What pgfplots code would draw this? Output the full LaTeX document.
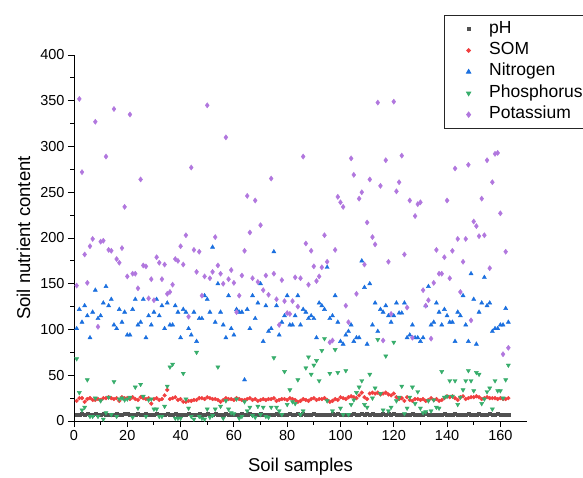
\documentclass[border=0pt]{standalone}
\usepackage{fontspec}
\setmainfont{Liberation Sans}
\usepackage{pgfplots}
\usepackage{pgfplotstable}
\pgfplotsset{compat=1.18}
\definecolor{cPH}{HTML}{515151}
\definecolor{cSOM}{HTML}{F14040}
\definecolor{cN}{HTML}{1A6FDF}
\definecolor{cP}{HTML}{37AD6B}
\definecolor{cK}{HTML}{B177DE}

% x pH SOM N P K
\pgfplotstableread{
x pH SOM N P K
1 7.2 22 101 68 148
2 6.8 25 122 31 352
3 7.5 25 108 12 272
4 6.9 21 126 15 182
5 7.8 24 115 45 151
6 6.5 25 91 5 191
7 7.1 23 119 5 199
8 7.6 23 143 25 327
9 6.7 24 112 5 103
10 7.3 23 115 22 196
11 8.0 25 129 2 197
12 6.9 25 147 9 289
13 7.4 26 126 26 187
14 7.0 25 133 7 186
15 6.6 24 105 43 341
16 7.7 25 101 5 177
17 7.2 22 122 24 173
18 6.8 26 108 25 189
19 7.5 25 119 23 234
20 7.9 25 94 24 158
21 7.1 24 94 26 335
22 6.4 26 122 4 161
23 7.3 24 133 37 161
24 7.6 23 105 14 145
25 7.0 26 108 40 264
26 6.9 25 133 27 170
27 7.7 24 91 5 169
28 7.2 25 115 23 134
29 6.6 19 105 24 155
30 7.4 24 119 13 132
31 7.8 25 133 13 179
32 7.0 23 115 5 173
33 6.7 24 126 5 155
34 7.3 28 101 16 171
35 7.5 34 129 38 139
36 6.9 24 105 59 141
37 7.1 25 105 62 149
38 7.6 26 126 3 177
39 6.5 23 119 3 175
40 7.2 24 91 3 191
41 7.4 21 122 52 171
42 6.8 21 119 24 203
43 7.7 22 101 14 114
44 7.0 22 94 5 277
45 6.6 23 119 2 187
46 7.3 23 87 75 163
47 7.9 25 112 5 185
48 7.1 25 112 3 137
49 6.8 24 137 2 158
50 7.5 26 133 13 345
51 7.2 25 119 4 156
52 6.7 24 190 6 163
53 7.6 24 108 13 201
54 7.0 23 150 59 170
55 7.3 21 119 16 161
56 6.9 23 105 3 150
57 7.8 25 91 22 310
58 7.1 24 137 13 155
59 6.6 24 101 9 165
60 7.4 23 94 8 151
61 7.2 25 122 24 119
62 6.8 24 119 3 137
63 7.5 23 119 5 159
64 7.0 23 45 21 186
65 6.7 24 122 11 246
66 7.6 25 101 15 206
67 7.3 23 137 6 156
68 6.9 24 112 4 241
69 7.1 22 129 16 152
70 7.7 23 150 7 214
71 6.5 24 87 15 143
72 7.2 23 126 5 159
73 7.4 24 98 4 138
74 6.8 24 101 15 265
75 7.0 25 185 69 161
76 7.6 22 126 15 133
77 6.9 23 94 11 105
78 7.3 24 108 7 154
79 6.6 24 115 54 131
80 7.1 23 137 18 118
81 7.8 25 105 34 117
82 7.0 24 105 21 131
83 6.7 23 115 19 157
84 7.5 21 137 45 125
85 7.2 22 105 7 156
86 8.2 24 122 11 289
87 7.0 23 119 58 194
88 6.8 22 112 70 149
89 7.3 24 115 51 186
90 7.6 25 112 61 169
91 6.9 23 91 66 153
92 7.1 24 129 44 158
93 6.6 24 126 77 168
94 7.4 25 122 90 203
95 7.2 23 168 22 174
96 6.8 21 112 52 86
97 7.5 22 115 11 88
98 7.0 24 137 78 187
99 7.7 23 108 53 245
100 6.9 26 87 14 239
101 7.3 25 84 7 234
102 7.1 24 94 55 126
103 6.6 26 98 7 108
104 7.4 27 105 18 287
105 7.8 26 87 23 269
106 7.2 25 91 31 139
107 6.9 28 91 37 243
108 7.5 31 175 44 250
109 7.0 26 146 18 171
110 7.6 24 84 15 217
111 7.3 30 150 51 264
112 7.9 31 105 25 201
113 7.1 30 129 36 193
114 7.4 31 98 89 348
115 6.8 29 122 30 257
116 7.7 30 119 12 88
117 7.2 31 126 71 285
118 7.5 29 115 11 174
119 6.9 28 108 15 117
120 7.6 30 115 86 349
121 7.0 26 129 22 251
122 7.3 24 118 26 261
123 6.7 25 118 38 290
124 7.4 22 129 8 182
125 7.1 26 91 14 124
126 6.8 23 94 26 241
127 7.5 22 105 37 91
128 7.2 24 91 19 224
129 6.6 24 91 32 237
130 7.3 23 87 14 239
131 7.0 24 91 9 143
132 7.7 22 126 10 126
133 6.9 23 147 22 132
134 7.2 25 105 11 90
135 6.5 23 108 23 151
136 7.4 24 129 15 187
137 7.1 22 119 14 161
138 6.8 23 105 54 161
139 7.6 25 122 26 179
140 7.0 27 115 27 241
141 7.3 26 108 44 156
142 6.9 27 108 27 186
143 7.5 25 87 44 276
144 7.2 23 119 18 199
145 6.7 26 115 26 141
146 7.4 27 137 34 174
147 7.0 24 105 44 199
148 7.8 25 87 55 280
149 7.1 26 161 44 110
150 6.8 26 133 33 218
151 7.3 27 84 53 213
152 7.6 26 119 51 202
153 6.9 24 129 19 243
154 7.2 25 157 24 203
155 7.0 26 126 32 285
156 7.5 25 129 36 167
157 6.7 25 98 13 261
158 7.3 25 101 44 292
159 7.9 24 101 33 293
160 7.1 25 105 33 227
161 6.9 24 105 25 73
162 7.4 24 123 45 185
163 7.2 25 108 61 80
}\soil

\begin{document}
\begin{tikzpicture}
\begin{axis}[
  scale only axis, width=453pt, height=366pt,
  xmin=0, xmax=170, ymin=0, ymax=400,
  axis x line*=bottom, axis y line*=left,
  xtick={0,20,...,160}, ytick={0,50,...,400},
  minor x tick num=1, minor y tick num=1,
  tick align=outside, major tick length=6pt, minor tick length=3.5pt,
  tick style={black, line width=0.9pt},
  axis line style={black, line width=0.9pt},
  /pgf/number format/assume math mode=true,
  ticklabel style={font=\fontsize{14.5}{16}\selectfont},
  label style={font=\fontsize{18.5}{21}\selectfont},
  xlabel={Soil samples}, ylabel={Soil nutrient content},
  xlabel style={yshift=-10pt}, ylabel style={yshift=3pt},
  legend style={at={(0.817,1.109)}, anchor=north west,
    draw=black!85, line width=0.9pt,
    font=\fontsize{17.5}{19}\selectfont, row sep=0.4pt,
    inner xsep=22pt, inner ysep=3pt,
    nodes={inner sep=2.5pt, text height=12pt, text depth=4pt},
    /tikz/every odd column/.append style={column sep=16pt}},
  legend cell align=left,
]
\coordinate (O) at (rel axis cs:0,0);
\coordinate (T) at (rel axis cs:1,1);
\addplot[only marks, mark=square*, mark size=1.5pt, color=cPH] table[x=x, y=pH] {\soil};
\addlegendentry{pH}
\addplot[only marks, mark=*, mark size=1.9pt, color=cSOM] table[x=x, y=SOM] {\soil};
\addlegendentry{SOM}
\addplot[only marks, mark=triangle*, mark size=2.4pt, color=cN] table[x=x, y=N] {\soil};
\addlegendentry{Nitrogen}
\addplot[only marks, mark=triangle*, mark options={rotate=180}, mark size=2.4pt, color=cP] table[x=x, y=P] {\soil};
\addlegendentry{Phosphorus}
\addplot[only marks, mark=diamond*, mark size=2.6pt, color=cK] table[x=x, y=K] {\soil};
\addlegendentry{Potassium}
\end{axis}
\pgfresetboundingbox
\path[use as bounding box] ([shift={(-74pt,-56pt)}]O) rectangle ([shift={(56pt,55pt)}]T);
\end{tikzpicture}
\end{document}
